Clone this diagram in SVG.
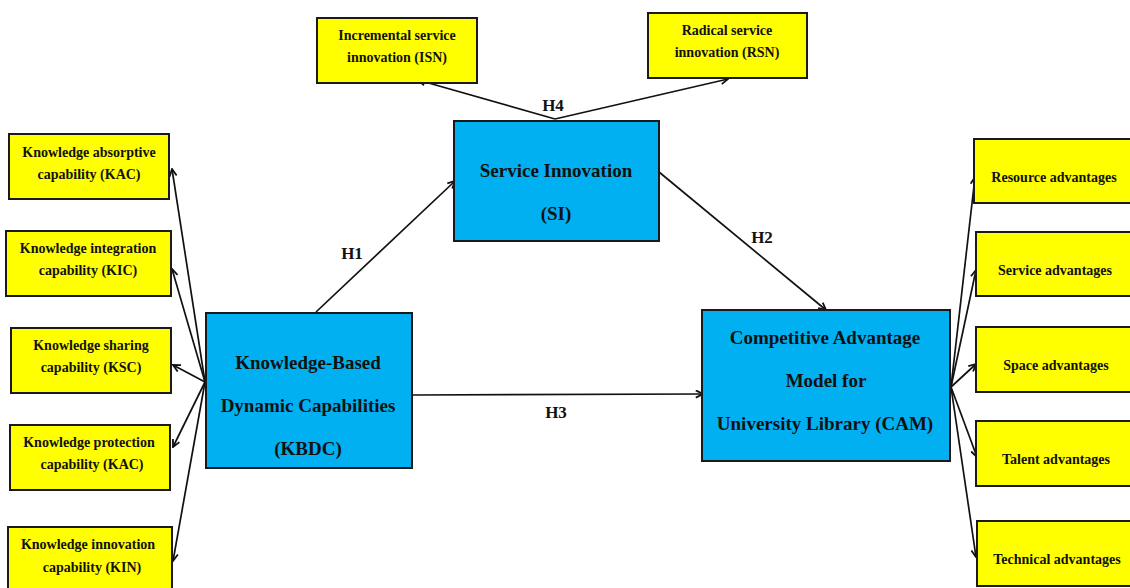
<svg xmlns="http://www.w3.org/2000/svg" width="1130" height="588" viewBox="0 0 1130 588">
<style>
.y{fill:#ffff00;stroke:#1a1a1a;stroke-width:2}
.b{fill:#00b0f0;stroke:#1a1a1a;stroke-width:2}
text{font-family:"Liberation Serif","Times New Roman",serif;font-weight:bold;fill:#111;text-anchor:middle}
.s{font-size:14px}
.l{font-size:19px}
.h{font-size:17px}
.c{stroke:#111;stroke-width:1.7;fill:none;marker-end:url(#a)}
</style>
<defs>
<marker id="a" viewBox="0 0 10 10" refX="9" refY="5" markerWidth="9" markerHeight="9" markerUnits="userSpaceOnUse" orient="auto">
<path d="M1,1 L9,5 L1,9" fill="none" stroke="#111" stroke-width="2"/>
</marker>
</defs>
<rect width="1130" height="588" fill="#fff"/>
<g id="connectors">
<line class="c" x1="205" y1="382" x2="172" y2="169"/>
<line class="c" x1="205" y1="382" x2="172" y2="269"/>
<line class="c" x1="205" y1="382" x2="173" y2="365"/>
<line class="c" x1="205" y1="382" x2="173" y2="447"/>
<line class="c" x1="205" y1="382" x2="173" y2="561"/>
<line class="c" x1="951" y1="387" x2="975" y2="177"/>
<line class="c" x1="951" y1="387" x2="976" y2="270"/>
<line class="c" x1="951" y1="387" x2="976" y2="364"/>
<line class="c" x1="951" y1="387" x2="977" y2="457"/>
<line class="c" x1="951" y1="387" x2="976" y2="557"/>
<line class="c" x1="555" y1="119" x2="418" y2="80"/>
<line class="c" x1="555" y1="119" x2="728" y2="79"/>
<line class="c" x1="316" y1="312" x2="455" y2="181"/>
<line class="c" x1="659" y1="172" x2="826" y2="310"/>
<line class="c" x1="412" y1="395" x2="703" y2="394"/>
<text class="h" x="553" y="111">H4</text>
<text class="h" x="352" y="259">H1</text>
<text class="h" x="762" y="243">H2</text>
<text class="h" x="556" y="418">H3</text>
</g>
<g id="KAC"><rect class="y" x="9" y="134" width="160" height="65"/><text class="s" x="89" y="157">Knowledge absorptive</text><text class="s" x="89" y="179">capability (KAC)</text></g>
<g id="KIC"><rect class="y" x="6" y="231" width="165" height="65"/><text class="s" x="88" y="253">Knowledge integration</text><text class="s" x="88" y="275">capability (KIC)</text></g>
<g id="KSC"><rect class="y" x="11" y="328" width="160" height="65"/><text class="s" x="91" y="350">Knowledge sharing</text><text class="s" x="91" y="372">capability (KSC)</text></g>
<g id="KPC"><rect class="y" x="10" y="425" width="160" height="65"/><text class="s" x="89" y="447">Knowledge protection</text><text class="s" x="92" y="469">capability (KAC)</text></g>
<g id="KIN"><rect class="y" x="8" y="527" width="164" height="64"/><text class="s" x="88" y="549">Knowledge innovation</text><text class="s" x="92" y="572">capability (KIN)</text></g>
<g id="ISN"><rect class="y" x="317" y="18" width="160" height="65"/><text class="s" x="397" y="40">Incremental service</text><text class="s" x="397" y="62">innovation (ISN)</text></g>
<g id="RSN"><rect class="y" x="648" y="13" width="159" height="65"/><text class="s" x="727" y="35">Radical service</text><text class="s" x="727" y="57">innovation (RSN)</text></g>
<g id="KBDC"><rect class="b" x="206" y="313" width="206" height="155"/><text class="l" x="308" y="369">Knowledge-Based</text><text class="l" x="308" y="412">Dynamic Capabilities</text><text class="l" x="308" y="455">(KBDC)</text></g>
<g id="SI"><rect class="b" x="454" y="121" width="205" height="120"/><text class="l" x="556" y="177">Service Innovation</text><text class="l" x="556" y="220">(SI)</text></g>
<g id="CAM"><rect class="b" x="702" y="310" width="248" height="151"/><text class="l" x="825" y="344">Competitive Advantage</text><text class="l" x="826" y="387">Model for</text><text class="l" x="825" y="430">University Library (CAM)</text></g>
<g id="RA"><rect class="y" x="974" y="139" width="160" height="64"/><text class="s" x="1054" y="182">Resource advantages</text></g>
<g id="SA"><rect class="y" x="976" y="232" width="158" height="64"/><text class="s" x="1055" y="275">Service advantages</text></g>
<g id="SPA"><rect class="y" x="976" y="327" width="158" height="65"/><text class="s" x="1056" y="370">Space advantages</text></g>
<g id="TA"><rect class="y" x="976" y="421" width="158" height="65"/><text class="s" x="1056" y="464">Talent advantages</text></g>
<g id="TEA"><rect class="y" x="977" y="521" width="158" height="65"/><text class="s" x="1057" y="564">Technical advantages</text></g>
</svg>
